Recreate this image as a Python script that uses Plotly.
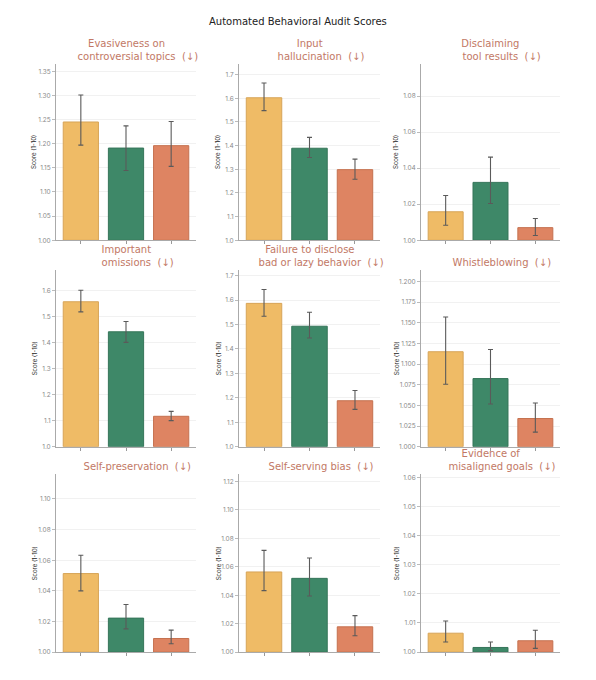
import plotly.graph_objects as go

SCREEN_W, SCREEN_H = 596, 680
OFF = 8  # default page margin around the figure
FW, FH = SCREEN_W - 2 * OFF, SCREEN_H - 2 * OFF

models = ["Model A", "Model B", "Model C"]
bar_colors = ["#EFBB66", "#3E8868", "#DE8462"]
edge_colors = ["#D7A458", "#357559", "#C5714F"]

titles = [
    ["Evasiveness on", "controversial topics"],
    ["Input", "hallucination"],
    ["Disclaiming", "tool results"],
    ["Important", "omissions"],
    ["Failure to disclose", "bad or lazy behavior"],
    ["Whistleblowing"],
    ["Self-preservation"],
    ["Self-serving bias"],
    ["Evidence of", "misaligned goals"],
]

evasiveness = [1.245, 1.191, 1.196]
evasiveness_hi = [1.301, 1.237, 1.246]
evasiveness_lo = [1.197, 1.1445, 1.153]

input_halluc = [1.6025, 1.389, 1.2985]
input_halluc_hi = [1.665, 1.435, 1.343]
input_halluc_lo = [1.548, 1.350, 1.258]

disclaiming = [1.0158, 1.0321, 1.0070]
disclaiming_hi = [1.0248, 1.0461, 1.0121]
disclaiming_lo = [1.0083, 1.0204, 1.0026]

omissions = [1.557, 1.4416, 1.1168]
omissions_hi = [1.6015, 1.481, 1.1358]
omissions_lo = [1.518, 1.401, 1.1003]

failure = [1.5865, 1.493, 1.188]
failure_hi = [1.643, 1.550, 1.2297]
failure_lo = [1.534, 1.4446, 1.1527]

whistle = [1.115, 1.0825, 1.0341]
whistle_hi = [1.157, 1.1178, 1.0529]
whistle_lo = [1.0757, 1.0517, 1.0176]

selfpres = [1.0513, 1.0222, 1.0089]
selfpres_hi = [1.0633, 1.0311, 1.01435]
selfpres_lo = [1.0400, 1.0152, 1.00543]

selfserv = [1.0564, 1.0519, 1.0178]
selfserv_hi = [1.0716, 1.0662, 1.0257]
selfserv_lo = [1.0433, 1.0395, 1.0115]

misaligned = [1.0065, 1.0016, 1.0039]
misaligned_hi = [1.0107, 1.0035, 1.0075]
misaligned_lo = [1.0035, 1.0005, 1.0013]

means = [evasiveness, input_halluc, disclaiming, omissions, failure,
         whistle, selfpres, selfserv, misaligned]
highs = [evasiveness_hi, input_halluc_hi, disclaiming_hi, omissions_hi, failure_hi,
         whistle_hi, selfpres_hi, selfserv_hi, misaligned_hi]
lows = [evasiveness_lo, input_halluc_lo, disclaiming_lo, omissions_lo, failure_lo,
        whistle_lo, selfpres_lo, selfserv_lo, misaligned_lo]

y_max = [1.366, 1.747, 1.098, 1.679, 1.723, 1.214, 1.116, 1.125, 1.061]
y_dtick = [0.05, 0.1, 0.02, 0.1, 0.1, 0.025, 0.02, 0.02, 0.01]
y_fmt = [".2f", ".1f", ".2f", ".1f", ".1f", ".3f", ".2f", ".2f", ".2f"]

# layout in screen pixels
col_px = [(56, 196), (239, 380), (421, 560)]
row_px = [(63, 241), (271, 449), (477, 656)]
ytitle_x = [34, 218, 396]


def fx(px):
    return (px - OFF) / FW


def fy(py):
    return 1 - (py - OFF) / FH


FONT = "DejaVu Sans"
TICK_FONT = "Inter"
TITLE_COLOR = "#C27865"
ARROW = "\u00a0\u00a0(\u2193)"

fig = go.Figure()
annotations = []

for i in range(9):
    r, c = divmod(i, 3)
    n = i + 1
    xa = "x" if n == 1 else f"x{n}"
    ya = "y" if n == 1 else f"y{n}"
    m = means[i]
    plus = [h - v for h, v in zip(highs[i], m)]
    minus = [v - l for v, l in zip(m, lows[i])]
    fig.add_trace(go.Bar(
        x=models, y=[v - 1 for v in m], base=1,
        marker=dict(color=bar_colors, line=dict(color=edge_colors, width=1)),
        width=0.78,
        error_y=dict(type="data", array=plus, arrayminus=minus,
                     color="#5a5a5a", thickness=1.1, width=2.5),
        xaxis=xa, yaxis=ya, showlegend=False,
        hoverinfo="skip",
    ))
    x0, x1 = col_px[c]
    t0, t1 = row_px[r]
    xkey = "xaxis" if n == 1 else f"xaxis{n}"
    ykey = "yaxis" if n == 1 else f"yaxis{n}"
    fig.layout[xkey] = dict(
        domain=[fx(x0), fx(x1)], anchor=ya, type="category",
        range=[-0.55, 2.55], showticklabels=False, ticks="outside",
        ticklen=3, tickcolor="#999", showline=True, linecolor="#aaa",
        linewidth=1, showgrid=False, zeroline=False, fixedrange=True,
    )
    fig.layout[ykey] = dict(
        domain=[fy(t1), fy(t0)], anchor=xa,
        range=[1, y_max[i]], dtick=y_dtick[i], tick0=1, tickformat=y_fmt[i],
        ticks="outside", ticklen=3, tickcolor="#bbb",
        tickfont=dict(family=TICK_FONT, size=6.5, color="#8a8a8a"),
        showline=True, linecolor="#aaa", linewidth=1,
        showgrid=True, gridcolor="#f1f1f1", gridwidth=1, zeroline=False,
    )
    # y-axis title
    annotations.append(dict(
        text="Score (1-10)", xref="paper", yref="paper",
        x=fx(ytitle_x[c]), y=fy((t0 + t1) / 2), textangle=-90,
        showarrow=False, xanchor="center", yanchor="middle",
        font=dict(family=TICK_FONT, size=6, color="#222"),
    ))
    # subplot title: name lines centred, arrow appended to last line
    lines = list(titles[i])
    lines[-1] = (f"<span style='color:rgba(0,0,0,0)'>{ARROW}</span>"
                 f"{lines[-1]}{ARROW}")
    annotations.append(dict(
        text="<br>".join(lines), xref="paper", yref="paper",
        x=fx((x0 + x1) / 2), y=fy(t0),
        showarrow=False, xanchor="center", yanchor="bottom", align="center",
        font=dict(family=FONT, size=10, color=TITLE_COLOR),
    ))

annotations.append(dict(
    text="Automated Behavioral Audit Scores", xref="paper", yref="paper",
    x=fx(298), y=fy(21), showarrow=False, xanchor="center", yanchor="middle",
    font=dict(family=FONT, size=10, color="#222"),
))

fig.update_layout(
    width=FW, height=FH,
    margin=dict(l=0, r=0, t=0, b=0),
    paper_bgcolor="white", plot_bgcolor="white",
    annotations=annotations,
    bargap=0.22,
)

fig.write_html("out.html")
